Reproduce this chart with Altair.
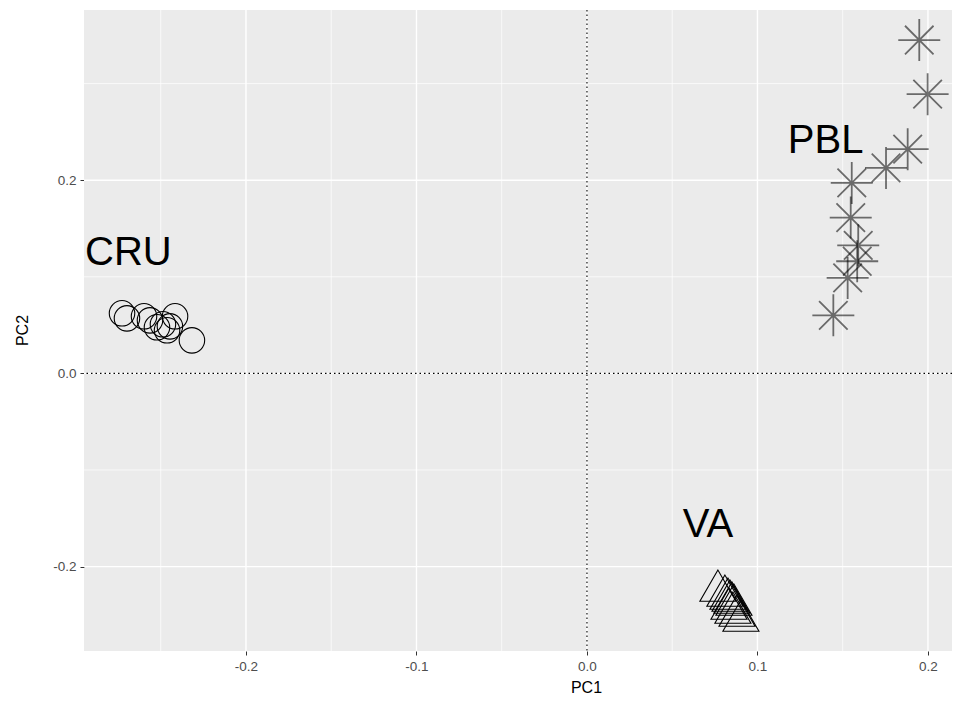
import altair as alt
import pandas as pd

# ---- data ----
cru_pc1 = [-0.2727, -0.2698, -0.2598, -0.2563, -0.2522, -0.2487, -0.2463, -0.2446, -0.2416, -0.2317]
cru_pc2 = [0.0622, 0.0570, 0.0591, 0.0549, 0.0477, 0.0508, 0.0446, 0.0487, 0.0591, 0.0342]

va_pc1 = [0.0768, 0.0809, 0.0827, 0.0839, 0.0850, 0.0862, 0.0833, 0.0856, 0.0880, 0.0903]
va_pc2 = [-0.2197, -0.2249, -0.2280, -0.2301, -0.2321, -0.2342, -0.2383, -0.2425, -0.2456, -0.2508]

pbl_pc1 = [0.1949, 0.1998, 0.1881, 0.1754, 0.1553, 0.1547, 0.1591, 0.1585, 0.1529, 0.1445]
pbl_pc2 = [0.3451, 0.2891, 0.2321, 0.2127, 0.1972, 0.1613, 0.1326, 0.1161, 0.0988, 0.0601]

label_text = ["CRU", "PBL", "VA"]
label_pc1 = [-0.269, 0.140, 0.071]
label_pc2 = [0.125, 0.241, -0.157]

x_major = [-0.2, -0.1, 0.0, 0.1, 0.2]
x_minor = [-0.25, -0.15, -0.05, 0.05, 0.15]
y_major = [-0.2, 0.0, 0.2]
y_minor = [-0.1, 0.1, 0.3]

X_DOMAIN = [-0.295, 0.2141]
Y_DOMAIN = [-0.2874, 0.3762]

xs = alt.Scale(domain=X_DOMAIN, nice=False, zero=False)
ys = alt.Scale(domain=Y_DOMAIN, nice=False, zero=False)

cru = pd.DataFrame({"PC1": cru_pc1, "PC2": cru_pc2})
va = pd.DataFrame({"PC1": va_pc1, "PC2": va_pc2})
pbl = pd.DataFrame({"PC1": pbl_pc1, "PC2": pbl_pc2})
labels = pd.DataFrame({"label": label_text, "PC1": label_pc1, "PC2": label_pc2})

FONT = "Liberation Sans"
minus_fix = "replace(format(datum.value, '.1f'), '\u2212', '-')"

x_axis = alt.Axis(values=x_major, labelExpr=minus_fix, grid=False, domain=False,
                  tickColor="#333333", tickSize=4, tickWidth=1, labelColor="#4D4D4D",
                  labelFontSize=13.5, labelFont=FONT, labelPadding=4,
                  title="PC1", titleFont=FONT, titleFontSize=16, titleFontWeight="normal",
                  titleColor="#000000", titleX=502, titleY=28, titleAlign="center",
                  titleBaseline="top")
y_axis = alt.Axis(values=y_major, labelExpr=minus_fix, grid=False, domain=False,
                  tickColor="#333333", tickSize=4, tickWidth=1, labelColor="#4D4D4D",
                  labelFontSize=13.5, labelFont=FONT, labelPadding=4,
                  title="PC2", titleFont=FONT, titleFontSize=16, titleFontWeight="normal",
                  titleColor="#000000", titleX=-62, titleY=320, titleAngle=-90,
                  titleAlign="center", titleBaseline="middle")

# grid lines
gx_major = alt.Chart(pd.DataFrame({"v": x_major})).mark_rule(color="white", strokeWidth=1.4).encode(
    x=alt.X("v:Q", scale=xs, axis=x_axis))
gx_minor = alt.Chart(pd.DataFrame({"v": x_minor})).mark_rule(color="white", strokeWidth=0.7).encode(
    x=alt.X("v:Q", scale=xs))
gy_major = alt.Chart(pd.DataFrame({"v": y_major})).mark_rule(color="white", strokeWidth=1.4).encode(
    y=alt.Y("v:Q", scale=ys, axis=y_axis))
gy_minor = alt.Chart(pd.DataFrame({"v": y_minor})).mark_rule(color="white", strokeWidth=0.7).encode(
    y=alt.Y("v:Q", scale=ys))

zero_x = alt.Chart(pd.DataFrame({"v": [0.0]})).mark_rule(color="black", strokeWidth=1.1, strokeDash=[1.5, 3]).encode(
    x=alt.X("v:Q", scale=xs))
zero_y = alt.Chart(pd.DataFrame({"v": [0.0]})).mark_rule(color="black", strokeWidth=1.1, strokeDash=[1.5, 3]).encode(
    y=alt.Y("v:Q", scale=ys))

enc = dict(x=alt.X("PC1:Q", scale=xs), y=alt.Y("PC2:Q", scale=ys))

circles = alt.Chart(cru).mark_point(shape="circle", filled=False, size=650, stroke="black",
                                    strokeWidth=1.1, opacity=1).encode(**enc)
triangles = alt.Chart(va).mark_point(shape="triangle-up", filled=False, size=1300, stroke="black",
                                     strokeWidth=1.1, opacity=1).encode(**enc)
ASTER = "M-1,0L1,0M0,-1L0,1M-0.68,-0.68L0.68,0.68M-0.68,0.68L0.68,-0.68"
stars = alt.Chart(pbl).mark_point(shape=ASTER, filled=False, size=1764, stroke="#000000",
                                  strokeOpacity=0.55, strokeWidth=1.8, opacity=1).encode(**enc)

text = alt.Chart(labels).mark_text(font=FONT, fontSize=40, color="black", align="center",
                                   baseline="middle").encode(
    x=alt.X("PC1:Q", scale=xs), y=alt.Y("PC2:Q", scale=ys), text="label:N")

chart = alt.layer(gx_minor, gy_minor, gx_major, gy_major, zero_x, zero_y,
                  circles, triangles, stars, text).properties(
    width=868, height=641,
    autosize=alt.AutoSizeParams(type="none"),
    padding={"left": 76, "top": 2, "right": 0, "bottom": 46},
    background="white",
).configure_view(fill="#EBEBEB", stroke=None)

chart.save("out.html", embed_options={"renderer": "svg", "actions": False})
